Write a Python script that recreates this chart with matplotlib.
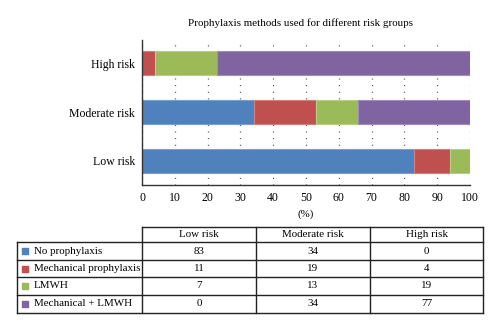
import matplotlib.pyplot as plt
import numpy as np

plt.rcParams['font.family'] = ['Liberation Serif', 'DejaVu Serif']

# Share of patients (%) per prophylaxis method in each risk group
groups = ["Low risk", "Moderate risk", "High risk"]
methods = ["No prophylaxis", "Mechanical prophylaxis", "LMWH", "Mechanical + LMWH"]
no_prophylaxis = [83, 34, 0]
mechanical = [11, 19, 4]
lmwh = [7, 13, 19]
mechanical_lmwh = [0, 34, 77]
series = [no_prophylaxis, mechanical, lmwh, mechanical_lmwh]
colors = ["#4F81BD", "#C0504D", "#9BBB59", "#8064A2"]
edges = ["#7A9FD0", "#D47E7B", "#B5CF85", "#A08BBE"]

W, H = 500, 330
fs = 7.9
fig = plt.figure(figsize=(W / 100, H / 100), dpi=100, facecolor="white")

# stacked horizontal bars
ax = fig.add_axes([142 / W, 1 - 185 / H, 328 / W, 145 / H])
y = np.arange(len(groups))
left = np.zeros(len(groups))
for vals, c, ec in zip(series, colors, edges):
    ax.barh(y, vals, left=left, height=0.5, color=c, edgecolor=ec,
            linewidth=0.8, zorder=2)
    left += np.array(vals)

ax.set_xlim(0, 100)
ax.set_ylim(-0.49, 2.47)
ax.set_xticks(np.arange(0, 101, 10))
ax.set_yticks(y)
ax.set_yticklabels(groups, fontsize=8.5)
ax.tick_params(axis="x", labelsize=8.5, length=0, pad=5)
ax.tick_params(axis="y", length=0, pad=5)
ax.xaxis.grid(True, linestyle=(0, (0.8, 4.5)), color="#444444", linewidth=0.9, zorder=0)
ax.set_axisbelow(True)
for s in ["top", "right"]:
    ax.spines[s].set_visible(False)
for s in ["left", "bottom"]:
    ax.spines[s].set_color("#333333")
    ax.spines[s].set_linewidth(1.0)
ax.set_xlabel("(%)", fontsize=fs, labelpad=4)
fig.text(300 / W, 1 - 23 / H, "Prophylaxis methods used for different risk groups",
         ha="center", va="center", fontsize=fs)

# data table below the chart, laid out in pixel units
tx = fig.add_axes([0, 0, 1, 1], facecolor="none")
tx.set_xlim(0, W)
tx.set_ylim(H, 0)
tx.axis("off")

col_x = [17, 142, 256, 370, 483]
row_y = [227, 242, 260, 277, 295, 313]
lc, lw = "#222222", 1.0

# header cells (first column empty, no border)
tx.plot([col_x[1], col_x[4]], [row_y[0], row_y[0]], color=lc, lw=lw)
for xx in col_x[1:]:
    tx.plot([xx, xx], [row_y[0], row_y[-1]], color=lc, lw=lw)
tx.plot([col_x[0], col_x[0]], [row_y[1], row_y[-1]], color=lc, lw=lw)
for yy in row_y[1:]:
    tx.plot([col_x[0], col_x[4]], [yy, yy], color=lc, lw=lw)

for j, g in enumerate(groups):
    cx = (col_x[j + 1] + col_x[j + 2]) / 2
    tx.text(cx, (row_y[0] + row_y[1]) / 2, g, ha="center", va="center", fontsize=fs)

for i, (m, vals, c) in enumerate(zip(methods, series, colors)):
    cy = (row_y[i + 1] + row_y[i + 2]) / 2
    tx.scatter([24.5], [cy], marker="s", s=16, color=c, zorder=3)
    tx.text(34, cy, m, ha="left", va="center", fontsize=fs)
    for j, v in enumerate(vals):
        cx = (col_x[j + 1] + col_x[j + 2]) / 2
        tx.text(cx, cy, str(v), ha="center", va="center", fontsize=fs)

fig.savefig("out.png", dpi=100, facecolor="white")
